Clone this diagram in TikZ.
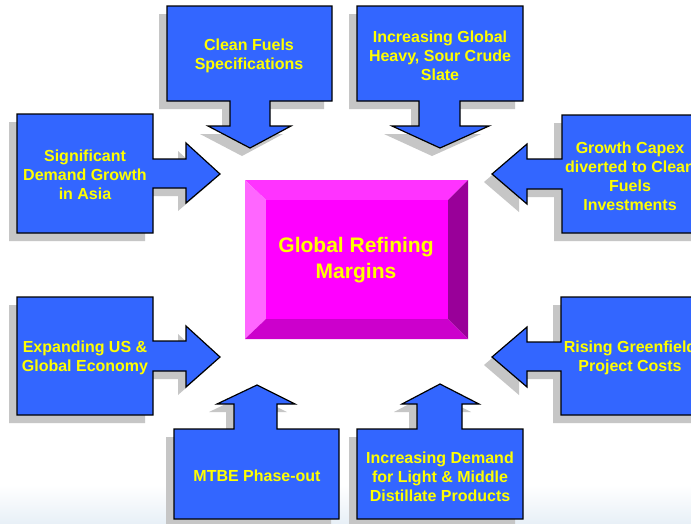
\documentclass[tikz,border=0pt]{standalone}
\usepackage{fontspec}
\setmainfont{Liberation Sans}
\definecolor{callblue}{RGB}{51,102,255}
\definecolor{calltext}{RGB}{255,255,0}
\definecolor{shadowgray}{RGB}{198,198,198}
\definecolor{mgTop}{RGB}{255,51,255}
\definecolor{mgLeft}{RGB}{255,102,255}
\definecolor{mgRight}{RGB}{153,0,153}
\definecolor{mgBottom}{RGB}{204,0,204}
\definecolor{mgCenter}{RGB}{255,0,255}
\definecolor{bgfoot}{RGB}{232,240,247}
\newcommand\callshape[1]{%
  \fill[shadowgray,shift={(-8,8)}] #1;
  \filldraw[fill=callblue,draw=black,line width=1.2pt,line join=miter] #1;}
\tikzset{
  calllabel/.style={text=calltext,font=\fontsize{16}{19}\selectfont\bfseries,align=center,inner sep=0pt},
  mainlabel/.style={text=calltext,font=\fontsize{21}{26}\selectfont\bfseries,align=center,inner sep=0pt}
}
\begin{document}
\begin{tikzpicture}[x=1pt,y=-1pt]
\useasboundingbox (0,0) rectangle (691,523);
\clip (0,0) rectangle (691,523);
\fill[white] (0,0) rectangle (691,523);
\shade[top color=white,bottom color=bgfoot] (0,485) rectangle (691,523);

% top callouts (pointing down)
\callshape{(167,6) -- (332,6) -- (332,101) -- (270,101) -- (270,126) -- (291,126) -- (250,148) -- (208,126) -- (230,126) -- (230,101) -- (167,101) -- cycle}
\callshape{(357,6) -- (523,6) -- (523,101) -- (460,101) -- (460,126) -- (489,126) -- (440,148) -- (392,126) -- (419,126) -- (419,101) -- (357,101) -- cycle}

% left callouts (pointing right)
\callshape{(17,114) -- (153,114) -- (153,159) -- (186,159) -- (186,143) -- (220,174) -- (186,203) -- (186,188) -- (153,188) -- (153,233) -- (17,233) -- cycle}
\callshape{(17,297) -- (153,297) -- (153,341) -- (186,341) -- (186,326) -- (220,357) -- (186,387) -- (186,371) -- (153,371) -- (153,415) -- (17,415) -- cycle}

% right callouts (pointing left)
\callshape{(562,115) -- (700,115) -- (700,233) -- (562,233) -- (562,189) -- (527,189) -- (527,204) -- (492,174) -- (527,144) -- (527,159) -- (562,159) -- cycle}
\callshape{(561,297) -- (700,297) -- (700,415) -- (561,415) -- (561,371) -- (527,371) -- (527,387) -- (492,357) -- (527,327) -- (527,342) -- (561,342) -- cycle}

% bottom callouts (pointing up)
\callshape{(174,519) -- (339,519) -- (339,429) -- (277,429) -- (277,404) -- (295,404) -- (257,385) -- (217,404) -- (234,404) -- (234,429) -- (174,429) -- cycle}
\callshape{(357,519) -- (523,519) -- (523,429) -- (462,429) -- (462,404) -- (479,404) -- (440,384) -- (402,404) -- (417,404) -- (417,429) -- (357,429) -- cycle}

% central bevelled box
\fill[mgTop] (245,180) -- (468,180) -- (448,200) -- (266,200) -- cycle;
\fill[mgLeft] (245,180) -- (266,200) -- (266,319) -- (245,339) -- cycle;
\fill[mgRight] (468,180) -- (468,339) -- (448,319) -- (448,200) -- cycle;
\fill[mgBottom] (245,339) -- (266,319) -- (448,319) -- (468,339) -- cycle;
\fill[mgCenter] (266,200) rectangle (448,319);

% labels
\node[mainlabel] (core) at (356,260) {Global Refining\\Margins};
\node[calllabel] (clean) at (249,56) {Clean Fuels\\Specifications};
\node[calllabel] (crude) at (440,56) {Increasing Global\\Heavy, Sour Crude\\Slate};
\node[calllabel] (asia) at (85,175) {Significant\\Demand Growth\\in Asia};
\node[calllabel] (capex) at (630,176) {Growth Capex\\diverted to Clean\\Fuels\\Investments};
\node[calllabel] (econ) at (85,358) {Expanding US \&\\Global Economy};
\node[calllabel] (green) at (630,358) {Rising Greenfield\\Project Costs};
\node[calllabel] (mtbe) at (257,476) {MTBE Phase-out};
\node[calllabel] (distil) at (440,477) {Increasing Demand\\for Light \& Middle\\Distillate Products};
\end{tikzpicture}
\end{document}
